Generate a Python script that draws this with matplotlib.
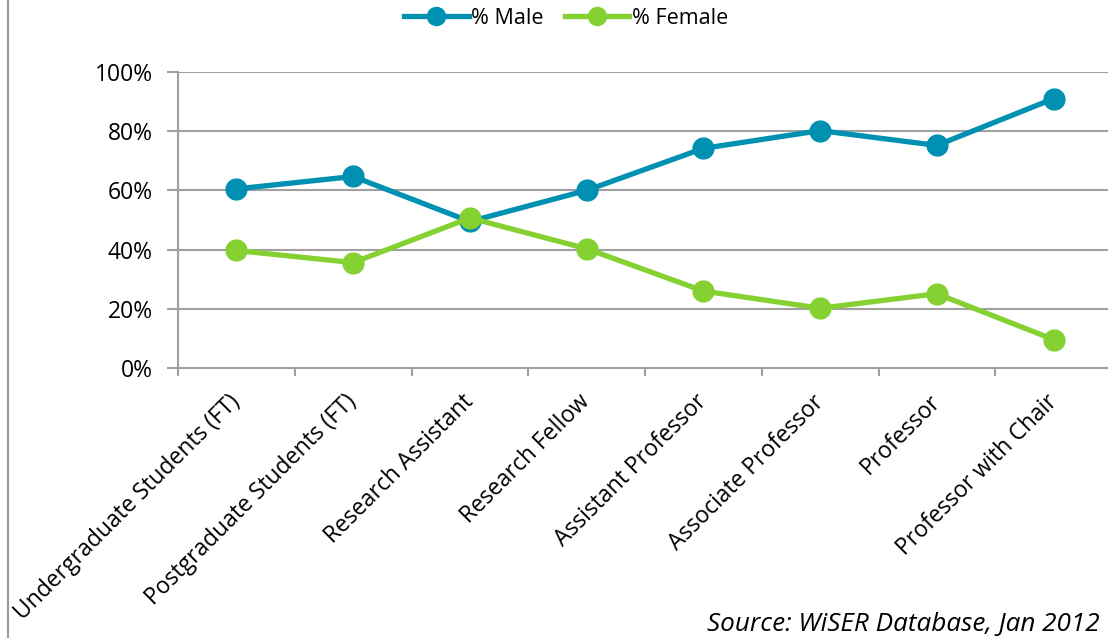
import matplotlib.pyplot as plt
from matplotlib.lines import Line2D

categories = ["Undergraduate Students (FT)", "Postgraduate Students (FT)", "Research Assistant",
              "Research Fellow", "Assistant Professor", "Associate Professor", "Professor",
              "Professor with Chair"]
male = [60.5, 64.7, 49.5, 60.0, 74.2, 80.2, 75.2, 91.0]
female = [39.7, 35.6, 50.7, 40.3, 26.0, 20.2, 25.1, 9.6]
y_ticks = [0, 20, 40, 60, 80, 100]

male_col = '#0090B2'
female_col = '#86D132'
grid_col = '#A0A0A0'

plt.rcParams['font.family'] = ['Open Sans', 'DejaVu Sans']

fig = plt.figure(figsize=(11.08, 6.38), dpi=100)
ax = fig.add_axes([178 / 1108, 1 - 368 / 638, (1112 - 178) / 1108, (368 - 72) / 638])

x = list(range(len(categories)))
ax.plot(x, male, color=male_col, lw=3.8, marker='o', ms=15, zorder=3)
ax.plot(x, female, color=female_col, lw=3.8, marker='o', ms=15, zorder=3)

ax.set_xlim(-0.5, len(categories) - 0.5)
ax.set_ylim(0, 100)
ax.set_yticks(y_ticks)
ax.set_yticklabels([f'{v}%' for v in y_ticks], fontsize=16.5)
ax.yaxis.grid(True, color=grid_col, lw=1.5)
ax.set_axisbelow(True)

ax.set_xticks(x)
ax.set_xticklabels(categories, rotation=45, ha='right', va='center', rotation_mode='anchor', fontsize=16.5)
ax.set_xticks([i - 0.5 for i in range(len(categories) + 1)], minor=True)
ax.tick_params(axis='x', which='major', length=0, pad=22)
ax.tick_params(axis='x', which='minor', length=6, width=1.5, color=grid_col)
ax.tick_params(axis='y', length=8, width=1.5, color=grid_col, pad=10)

for s in ['top', 'right']:
    ax.spines[s].set_visible(False)
for s in ['left', 'bottom']:
    ax.spines[s].set_color(grid_col)
    ax.spines[s].set_linewidth(1.5)

handles = [Line2D([], [], color=male_col, lw=3.8, marker='o', ms=13),
           Line2D([], [], color=female_col, lw=3.8, marker='o', ms=13)]
fig.legend(handles, ['% Male', '% Female'], loc='center', bbox_to_anchor=(566 / 1108, 1 - 18 / 638),
           ncol=2, frameon=False, fontsize=15.5, handlelength=3.0, handletextpad=0.1, columnspacing=1.0)

# left border of the original chart frame
fig.add_artist(Line2D([8 / 1108, 8 / 1108], [0, 1], color='#999999', lw=1.5))

fig.text(1100 / 1108, 1 - 625 / 638, 'Source: WiSER Database, Jan 2012', ha='right', va='center',
         fontsize=18.8, style='italic')

fig.savefig('out.png', dpi=100)
